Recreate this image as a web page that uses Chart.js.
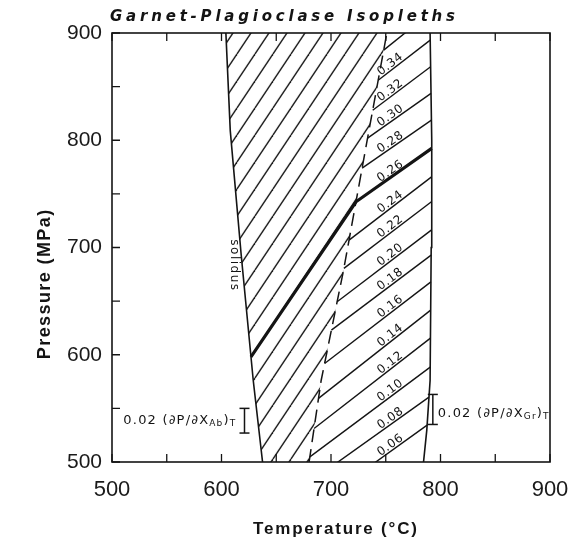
<!DOCTYPE html>
<html>
<head>
<meta charset="utf-8">
<script src="https://cdn.jsdelivr.net/npm/chart.js@4.4.0/dist/chart.umd.min.js"></script>
<style>
  html, body { margin: 0; padding: 0; background: #fff; }
  #wrap { width: 569px; height: 546px; }
</style>
</head>
<body>
<div id="wrap"><canvas id="chart" width="569" height="546"></canvas></div>
<script>
// Phase boundaries, T in °C against P in MPa
const solidusP = [500, 576, 693, 809, 900];
const solidusT = [637.5, 629, 618, 608, 604];
const meltP = [500, 576, 679, 797, 900];          // dashed boundary
const meltT = [680, 691, 711.5, 732.5, 751];
const rightP = [500, 530, 576, 700, 800, 900];
const rightT = [784.5, 787.5, 790.5, 791.5, 792, 790.5];

// Isopleths: pressure where each breaks on the dashed line, and where it meets the right boundary
const isoLabels = ['0.06', '0.08', '0.10', '0.12', '0.14', '0.16', '0.18', '0.20',
                   '0.22', '0.24', '0.26', '0.28', '0.30', '0.32', '0.34', ''];
const isoKinkP = [450, 478.5, 504.8, 531.3, 559.3, 591.9, 623, 649.4,
                  680.5, 706.9, 742.6, 774, 802, 828, 856, 884];
const isoEndP = [534.4, 560.5, 588.5, 615.5, 641.6, 668, 692.9, 716.2,
                 742.6, 765.9, 792.4, 818.8, 843.7, 868.5, 893.4, 918.6];

// the heavy isopleth carries on down to the solidus
const heavyIso = '0.26';
const heavySolidusP = 598;

// 0.02 error bars
const barAbT = 621, barAbP = [527, 550];
const barGrT = 793, barGrP = [535, 563];

const majorTicks = [500, 600, 700, 800, 900];
const minorTicks = [550, 650, 750, 850];

const INK = '#141414';
const LABEL_T = 757;

function interp(v, xs, ys) {
  let i = 1;
  while (i < xs.length - 1 && v > xs[i]) i++;
  const t = (v - xs[i - 1]) / (xs[i] - xs[i - 1]);
  return ys[i - 1] + t * (ys[i] - ys[i - 1]);
}

// diagonal hatching for the field between solidus and dashed line
function makeHatch() {
  const w = 18, h = 27;
  const c = document.createElement('canvas');
  c.width = w; c.height = h;
  const g = c.getContext('2d');
  g.strokeStyle = INK;
  g.lineWidth = 1.4;
  for (const dx of [-w, 0, w]) {
    g.beginPath();
    g.moveTo(dx, h);
    g.lineTo(dx + w, 0);
    g.stroke();
  }
  return g.createPattern(c, 'repeat');
}
const hatch = makeHatch();

const pts = (ps, ts) => ps.map((p, i) => ({ x: ts[i], y: p }));

const line = (data, extra) => Object.assign({
  data, borderColor: INK, borderWidth: 1.5, pointRadius: 0, fill: false, tension: 0
}, extra);

const isoSets = isoLabels.map((lab, i) => {
  const d = [];
  if (lab === heavyIso) d.push({ x: interp(heavySolidusP, solidusP, solidusT), y: heavySolidusP });
  d.push({ x: interp(isoKinkP[i], meltP, meltT), y: isoKinkP[i] });
  d.push({ x: interp(isoEndP[i], rightP, rightT), y: isoEndP[i] });
  return line(d, { borderWidth: lab === heavyIso ? 3.2 : 1.4 });
});

const bar = (t, ps) => line([{ x: t, y: ps[0] }, { x: t, y: ps[1] }], {
  borderWidth: 1.5, pointRadius: 5, pointStyle: 'line', pointBorderWidth: 1.5,
  pointBorderColor: INK, pointBackgroundColor: INK
});

const field = pts(solidusP, solidusT).concat(pts(meltP, meltT).reverse());

const datasets = [
  line(pts(solidusP, solidusT), { borderWidth: 1.6 }),
  line(pts(meltP, meltT), { borderDash: [13, 7] }),
  line(pts(rightP, rightT), { borderWidth: 1.6 }),
  ...isoSets,
  bar(barAbT, barAbP),
  bar(barGrT, barGrP),
  line(field, { borderWidth: 0, fill: 'shape', backgroundColor: hatch })
];

function drawRich(ctx, parts, x, y, align) {
  const big = '13px "DejaVu Sans"', small = '9px "DejaVu Sans"';
  ctx.letterSpacing = '1.2px';
  let w = 0;
  parts.forEach(p => { ctx.font = p.sub ? small : big; w += ctx.measureText(p.t).width; });
  let cx = align === 'right' ? x - w : x;
  ctx.textBaseline = 'middle';
  ctx.textAlign = 'left';
  parts.forEach(p => {
    ctx.font = p.sub ? small : big;
    ctx.fillText(p.t, cx, p.sub ? y + 3 : y);
    cx += ctx.measureText(p.t).width;
  });
  ctx.letterSpacing = '0px';
}

function spaced(ctx, text, x, y, rot, font, spacing) {
  ctx.save();
  ctx.translate(x, y);
  ctx.rotate(rot);
  ctx.font = font;
  ctx.letterSpacing = spacing + 'px';
  ctx.textAlign = 'center';
  ctx.textBaseline = 'middle';
  ctx.fillText(text, spacing / 2, 0);
  ctx.restore();
}

const decor = {
  id: 'decor',
  beforeDatasetsDraw(chart) {
    // line the hatching up with the heavy isopleth
    const xs = chart.scales.x, ys = chart.scales.y;
    const px = xs.getPixelForValue(interp(heavySolidusP, solidusP, solidusT));
    const py = ys.getPixelForValue(heavySolidusP);
    const k = ((1.5 * px + py) % 27 + 27) % 27;
    hatch.setTransform(new DOMMatrix().translate(k / 1.5, 0));
  },
  afterDatasetsDraw(chart) {
    const { ctx, chartArea: a } = chart;
    const xs = chart.scales.x, ys = chart.scales.y;
    ctx.save();
    ctx.strokeStyle = INK;
    ctx.fillStyle = INK;

    // frame and inward ticks
    ctx.lineWidth = 1.6;
    ctx.strokeRect(a.left, a.top, a.right - a.left, a.bottom - a.top);
    ctx.lineWidth = 1.3;
    const tl = 8;
    majorTicks.concat(minorTicks).forEach(v => {
      const x = xs.getPixelForValue(v), y = ys.getPixelForValue(v);
      ctx.beginPath();
      ctx.moveTo(x, a.bottom); ctx.lineTo(x, a.bottom - tl);
      ctx.moveTo(x, a.top); ctx.lineTo(x, a.top + tl);
      ctx.moveTo(a.left, y); ctx.lineTo(a.left + tl, y);
      ctx.stroke();
    });

    // isopleth values written along each line
    ctx.font = '12px "DejaVu Sans"';
    ctx.letterSpacing = '0.6px';
    ctx.textAlign = 'center';
    ctx.textBaseline = 'alphabetic';
    isoLabels.forEach((lab, i) => {
      if (!lab) return;
      const t0 = interp(isoKinkP[i], meltP, meltT), t1 = interp(isoEndP[i], rightP, rightT);
      const p = isoKinkP[i] + (LABEL_T - t0) * (isoEndP[i] - isoKinkP[i]) / (t1 - t0);
      const x0 = xs.getPixelForValue(t0), y0 = ys.getPixelForValue(isoKinkP[i]);
      const x1 = xs.getPixelForValue(t1), y1 = ys.getPixelForValue(isoEndP[i]);
      const ang = Math.atan2(y1 - y0, x1 - x0);
      const cx = xs.getPixelForValue(LABEL_T), cy = ys.getPixelForValue(p);
      ctx.save();
      ctx.translate(cx + Math.sin(ang) * 2, cy - Math.cos(ang) * 2);
      ctx.rotate(ang);
      ctx.fillText(lab, 0, 0);
      ctx.restore();
    });
    ctx.letterSpacing = '0px';

    // solidus label, reading downwards beside the line
    spaced(ctx, 'solidus', xs.getPixelForValue(interp(684, solidusP, solidusT)) - 8, ys.getPixelForValue(684),
      Math.PI / 2, '12px "DejaVu Sans"', 1.5);

    // error bar captions
    drawRich(ctx, [{ t: '0.02 (∂P/∂X' }, { t: 'Ab', sub: true }, { t: ')' }, { t: 'T', sub: true }],
      xs.getPixelForValue(barAbT) - 8, ys.getPixelForValue((barAbP[0] + barAbP[1]) / 2), 'right');
    drawRich(ctx, [{ t: '0.02 (∂P/∂X' }, { t: 'Gr', sub: true }, { t: ')' }, { t: 'T', sub: true }],
      xs.getPixelForValue(barGrT) + 5, ys.getPixelForValue((barGrP[0] + barGrP[1]) / 2) + 4, 'left');

    // axis titles
    spaced(ctx, 'Pressure (MPa)', a.left - 67, (a.top + a.bottom) / 2 + 37, -Math.PI / 2,
      'bold 18px "Liberation Sans"', 1.4);
    spaced(ctx, 'Temperature (°C)', (a.left + a.right) / 2 + 4, a.bottom + 67, 0,
      'bold 17px "Liberation Sans"', 1.8);

    // chart title, widely spaced
    const title = 'Garnet-Plagioclase Isopleths';
    ctx.font = 'italic bold 15px "DejaVu Sans"';
    ctx.letterSpacing = '0px';
    const w0 = ctx.measureText(title).width;
    const sp = (345 - w0) / (title.length - 1);
    ctx.letterSpacing = sp + 'px';
    ctx.textAlign = 'left';
    ctx.textBaseline = 'alphabetic';
    ctx.fillText(title, a.left - 2, 21);
    ctx.restore();
  }
};

new Chart(document.getElementById('chart'), {
  type: 'line',
  data: { datasets },
  plugins: [decor],
  options: {
    responsive: false,
    animation: false,
    layout: { padding: { top: 33, right: 19, left: 0, bottom: 0 } },
    plugins: { legend: { display: false }, tooltip: { enabled: false } },
    scales: {
      x: {
        type: 'linear', min: 500, max: 900,
        grid: { display: false, drawTicks: false },
        border: { display: false },
        ticks: { stepSize: 100, padding: 15, color: '#1a1a1a', font: { family: 'Liberation Sans', size: 22 } },
        afterFit(s) { s.height = 84; s.paddingLeft = 0; s.paddingRight = 0; }
      },
      y: {
        type: 'linear', min: 500, max: 900,
        grid: { display: false, drawTicks: false },
        border: { display: false },
        ticks: { stepSize: 100, padding: 10, color: '#1a1a1a', font: { family: 'Liberation Sans', size: 21 } },
        afterFit(s) { s.width = 112; s.paddingTop = 0; s.paddingBottom = 0; }
      }
    }
  }
});
</script>
</body>
</html>
